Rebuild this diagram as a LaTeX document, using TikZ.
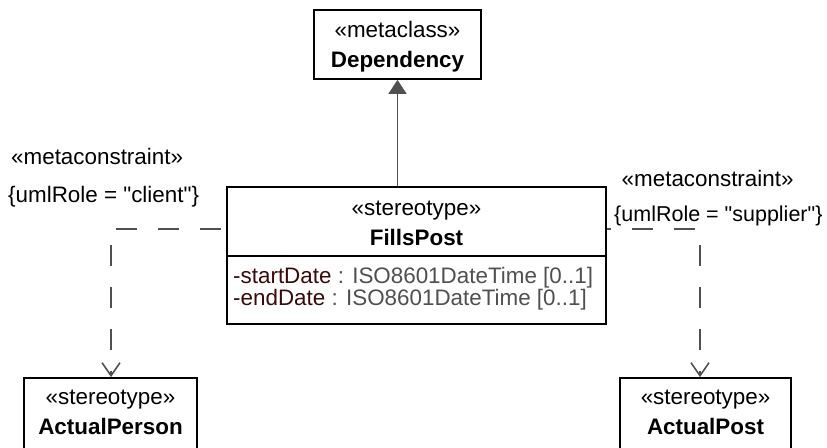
\documentclass[tikz,border=0pt]{standalone}
\usepackage{fontspec}
\setmainfont{Liberation Sans}
\newfontfamily\arialfont{Liberation Sans}
\usetikzlibrary{arrows.meta}
\definecolor{linegrey}{HTML}{505050}
\definecolor{attrname}{HTML}{3A0A0A}
\definecolor{attrtype}{HTML}{505050}
\tikzset{
  umlbox/.style={draw=black, line width=1.8pt, fill=white, rectangle, inner sep=0pt},
  txt/.style={inner sep=0pt, font=\arialfont\fontsize{22.4}{24}\selectfont, text=black},
  btxt/.style={txt, font=\arialfont\fontsize{22.4}{24}\selectfont\bfseries},
  dashconn/.style={draw=linegrey, line width=1.8pt, dash pattern=on 21pt off 21pt, -{Straight Barb[width=18pt,length=13pt,line width=1.6pt]}},
  genconn/.style={draw=linegrey, line width=1.8pt, -{Triangle[width=18pt,length=14pt]}},
}
\begin{document}
\begin{tikzpicture}[x=1pt,y=-1pt]
\useasboundingbox (0,0) rectangle (827,447);
\clip (0,0) rectangle (827,447);
% boxes
\node[umlbox, minimum width=167pt, minimum height=69pt] (dep) at (397.5,44.5) {};
\node[umlbox, minimum width=379pt, minimum height=137pt] (fills) at (416.5,255.5) {};
\draw[black, line width=1.4pt] (fills.west |- 0,256) -- (fills.east |- 0,256);
\node[umlbox, minimum width=173pt, minimum height=90pt] (person) at (110.5,423) {};
\node[umlbox, minimum width=171pt, minimum height=90pt] (post) at (705.5,423) {};
% texts
\node[txt, anchor=mid] (depst) at (397.5,35) {«metaclass»};
\node[btxt, anchor=mid] (depname) at (397.5,65) {Dependency};
\node[txt, anchor=mid] (fillsst) at (416.5,213) {«stereotype»};
\node[btxt, anchor=mid] (fillsname) at (416.5,243) {FillsPost};
\node[txt, anchor=mid west] (attr1) at (233,281) {\textcolor{attrname}{-startDate} \textcolor{attrtype}{: ISO8601DateTime [0..1]}};
\node[txt, anchor=mid west] (attr2) at (233,303) {\textcolor{attrname}{-endDate} \textcolor{attrtype}{: ISO8601DateTime [0..1]}};
\node[txt, anchor=mid] (personst) at (110.5,402) {«stereotype»};
\node[btxt, anchor=mid] (personname) at (110.5,432) {ActualPerson};
\node[txt, anchor=mid] (postst) at (705.5,402) {«stereotype»};
\node[btxt, anchor=mid] (postname) at (705.5,432) {ActualPost};
\node[txt, anchor=mid west] (mcl) at (11,162) {«metaconstraint»};
\node[txt, anchor=mid west] (rolel) at (8,200) {\{umlRole = "client"\}};
\node[txt, anchor=mid west] (mcr) at (621.5,184) {«metaconstraint»};
\node[txt, anchor=mid west, font=\arialfont\fontsize{21.5}{24}\selectfont] (roler) at (614,219) {\{umlRole = "supplier"\}};
% connectors
\coordinate (lc) at (111,229);
\coordinate (rc) at (700,229);
\draw[genconn] (fills.north -| dep.south) -- (dep.south);
\draw[dashconn, dash phase=37pt] (fills.west |- lc) -- (lc) -- (person.north -| lc);
\draw[dashconn, dash phase=17pt] (fills.east |- rc) -- (rc) -- (post.north -| rc);
\end{tikzpicture}
\end{document}
